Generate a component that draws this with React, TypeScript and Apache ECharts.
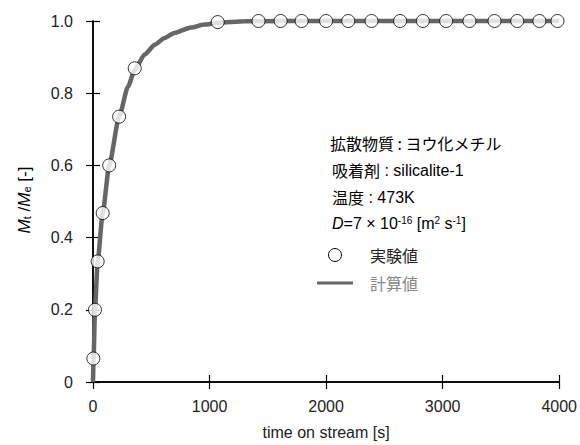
import React, { useEffect, useRef } from "react";
import * as echarts from "echarts";

const expT = [3, 17, 40, 83, 139, 224, 358, 1070, 1420, 1610, 1790, 2000, 2190, 2390, 2635, 2830, 3030, 3230, 3445, 3640, 3830, 3985];
const expY = [0.065, 0.2, 0.334, 0.468, 0.6, 0.735, 0.869, 0.997, 1, 1, 1, 1, 1, 1, 1, 1, 1, 1, 1, 1, 1, 1];

const calcT = [0, 5, 17, 40, 83, 139, 224, 300, 358, 443, 529, 614, 699, 841, 955, 1070, 1300, 1600, 2500, 4000];
const calcY = [0, 0.065, 0.2, 0.334, 0.468, 0.6, 0.735, 0.818, 0.865, 0.907, 0.934, 0.953, 0.967, 0.982, 0.99, 0.995, 0.999, 1, 1, 1];

const xTicks = [0, 1000, 2000, 3000, 4000];
const yTicks = [0, 0.2, 0.4, 0.6, 0.8, 1.0];

const LAT = "'Liberation Sans', Arial, sans-serif";
const CJK = "'Noto Sans CJK JP', sans-serif";

export default function App() {
  const ref = useRef<HTMLDivElement>(null);
  useEffect(() => {
    if (!ref.current) return;
    const chart = echarts.init(ref.current, undefined, { renderer: "svg" });
    const axisLine = { show: true, lineStyle: { color: "#000", width: 1.5 } };
    const tick = { show: true, inside: true, length: 7, lineStyle: { color: "#000", width: 1.2 } };
    const rich = {
      c: { fontFamily: CJK, fontSize: 16, color: "#222" },
      l: { fontFamily: LAT, fontSize: 16, color: "#222" },
      i: { fontFamily: LAT, fontSize: 16, fontStyle: "italic", color: "#222" },
      sup: { fontFamily: LAT, fontSize: 10, color: "#222", verticalAlign: "top" },
    };
    const option: any = {
      animation: false,
      grid: { left: 93, right: 19, top: 21, bottom: 62, containLabel: false },
      xAxis: [
        {
          type: "value",
          min: xTicks[0],
          max: xTicks[xTicks.length - 1],
          interval: 1000,
          axisLine,
          axisTick: tick,
          splitLine: { show: false },
          axisLabel: { fontFamily: LAT, fontSize: 16, color: "#222", margin: 16, formatter: (v: number) => String(v) },
          name: "time on stream [s]",
          nameLocation: "middle",
          nameGap: 42,
          nameTextStyle: { fontFamily: LAT, fontSize: 16, color: "#222" },
        },
        {
          type: "value",
          position: "top",
          min: 0,
          max: 4000,
          interval: 1000,
          axisLine,
          axisTick: tick,
          axisLabel: { show: false },
          splitLine: { show: false },
        },
      ],
      yAxis: [
        {
          type: "value",
          min: yTicks[0],
          max: yTicks[yTicks.length - 1],
          interval: 0.2,
          axisLine,
          axisTick: tick,
          splitLine: { show: false },
          axisLabel: {
            fontFamily: LAT,
            fontSize: 16,
            color: "#222",
            margin: 20,
            formatter: (v: number) => (v === 0 ? "0" : v.toFixed(1)),
          },
        },
        {
          type: "value",
          position: "right",
          min: 0,
          max: 1,
          interval: 0.2,
          axisLine,
          axisTick: tick,
          axisLabel: { show: false },
          splitLine: { show: false },
        },
      ],
      series: [
        {
          name: "計算値",
          type: "line",
          data: calcT.map((t, k) => [t, calcY[k]]),
          showSymbol: false,
          smooth: 0.2,
          smoothMonotone: "x",
          lineStyle: { color: "#666", width: 4.5 },
          z: 2,
          clip: false,
        },
        {
          name: "実験値",
          type: "scatter",
          data: expT.map((t, k) => [t, expY[k]]),
          symbol: "circle",
          symbolSize: 13,
          itemStyle: { color: "#fff", borderColor: "#000", borderWidth: 1 },
          z: 5,
          clip: false,
        },
      ],
      graphic: [
        {
          type: "text",
          x: 24,
          y: 200,
          rotation: Math.PI / 2,
          style: {
            text: "{m|M}{s|t}{n| /}{m|M}{s|e}{n| [-]}",
            align: "center",
            verticalAlign: "middle",
            rich: {
              m: { fontFamily: LAT, fontSize: 17, fontStyle: "italic", color: "#222" },
              n: { fontFamily: LAT, fontSize: 17, color: "#222" },
              s: { fontFamily: LAT, fontSize: 11, color: "#222", verticalAlign: "bottom" },
            },
          },
        },
        {
          type: "text",
          x: 330,
          y: 143,
          style: { text: "{c|拡散物質 : ヨウ化メチル}", verticalAlign: "middle", rich },
        },
        {
          type: "text",
          x: 332,
          y: 170,
          style: { text: "{c|吸着剤}{l| : silicalite-1}", verticalAlign: "middle", rich },
        },
        {
          type: "text",
          x: 332,
          y: 197,
          style: { text: "{c|温度}{l| : 473K}", verticalAlign: "middle", rich },
        },
        {
          type: "text",
          x: 332,
          y: 223,
          style: {
            text: "{i|D}{l|=7 × 10}{sup|-16}{l| [m}{sup|2}{l| s}{sup|-1}{l|]}",
            verticalAlign: "middle",
            rich,
          },
        },
        {
          type: "circle",
          shape: { cx: 335, cy: 255, r: 6.5 },
          style: { fill: "#fff", stroke: "#000", lineWidth: 1 },
        },
        {
          type: "text",
          x: 370,
          y: 255,
          style: { text: "実験値", fontFamily: CJK, fontSize: 16, fill: "#222", verticalAlign: "middle" },
        },
        {
          type: "line",
          shape: { x1: 317, y1: 283, x2: 353, y2: 283 },
          style: { stroke: "#666", lineWidth: 3 },
        },
        {
          type: "text",
          x: 370,
          y: 283,
          style: { text: "計算値", fontFamily: CJK, fontSize: 16, fill: "#888", verticalAlign: "middle" },
        },
      ],
    };
    chart.setOption(option);
    return () => chart.dispose();
  }, []);
  return <div ref={ref} style={{ width: 580, height: 445, position: "absolute", left: 0, top: 0 }} />;
}
